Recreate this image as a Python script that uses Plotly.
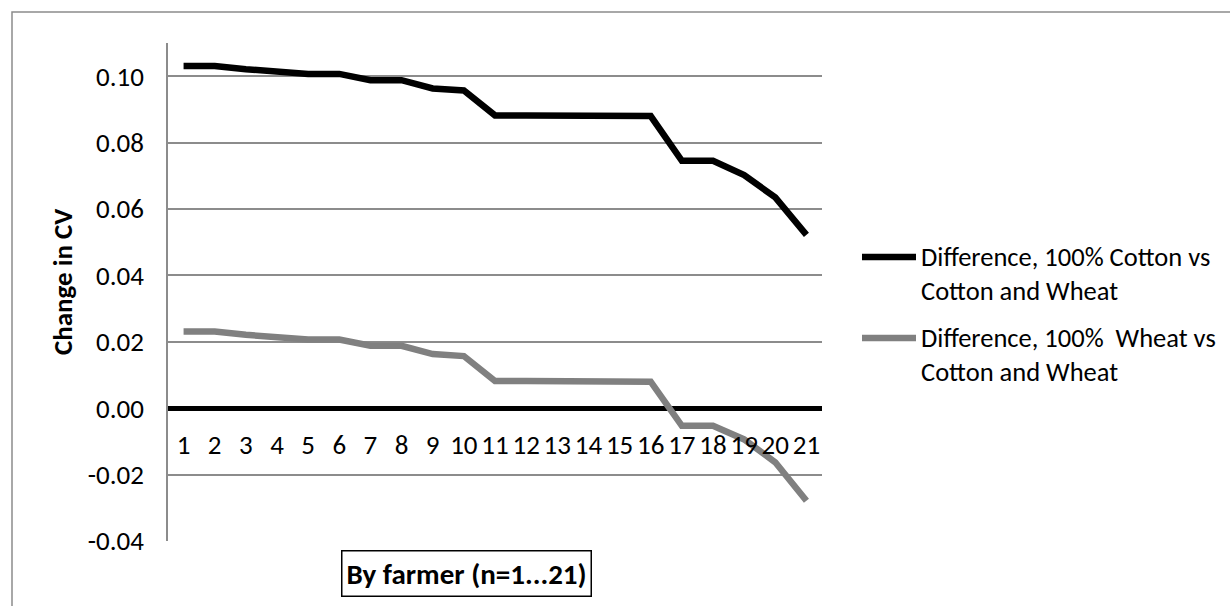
import plotly.graph_objects as go

farmers = list(range(1, 22))
tick_labels = [str(i) for i in farmers]
y_tick_vals = [-0.04, -0.02, 0.0, 0.02, 0.04, 0.06, 0.08, 0.10]
y_tick_text = ["-0.04", "-0.02", "0.00", "0.02", "0.04", "0.06", "0.08", "0.10"]
cotton_diff = [0.1031, 0.1031, 0.1021, 0.1012, 0.1007, 0.1007, 0.0988, 0.0988, 0.0963, 0.0957,
               0.0882, 0.0882, 0.0882, 0.0882, 0.0882, 0.0880, 0.0745, 0.0745, 0.0702, 0.0635, 0.0522]
wheat_diff = [0.0231, 0.0231, 0.0221, 0.0212, 0.0207, 0.0207, 0.0188, 0.0188, 0.0163, 0.0157,
              0.0082, 0.0082, 0.0082, 0.0082, 0.0082, 0.0080, -0.0053, -0.0053, -0.0094, -0.0163, -0.0279]
series_names = ["Difference, 100% Cotton vs<br>Cotton and Wheat",
                "Difference, 100%\u00a0 Wheat vs<br>Cotton and Wheat"]
series_colors = ["#000000", "#808080"]

FONT = "Calibri, Carlito, Lato, sans-serif"
W, H = 1230, 606
L, R, T, B = 168, 822, 43, 541
pw, ph = R - L, B - T

def px_x(x):
    return (x - L) / pw

def px_y(y):
    return (B - y) / ph

fig = go.Figure()
for vals, name, col in zip([cotton_diff, wheat_diff], series_names, series_colors):
    fig.add_trace(go.Scatter(x=farmers, y=vals, mode="lines", name=name, showlegend=False,
                             line=dict(color=col, width=6.5)))

y_min, y_max = -0.04, 0.11
fig.update_layout(
    width=W, height=H,
    margin=dict(l=L, r=W - R, t=T, b=H - B),
    paper_bgcolor="white", plot_bgcolor="white",
    font=dict(family=FONT, size=27, color="#000000"),
    showlegend=False,
    xaxis=dict(range=[0.5, 21.5], tickmode="array", tickvals=farmers, ticktext=tick_labels,
               showgrid=False, zeroline=False, showline=False,
               anchor="free", position=(0 - y_min) / (y_max - y_min),
               ticks="outside", ticklen=12, tickcolor="rgba(0,0,0,0)",
               tickfont=dict(size=27)),
    yaxis=dict(range=[y_min, y_max], tickmode="array", tickvals=y_tick_vals, ticktext=y_tick_text,
               showgrid=True, gridcolor="#8c8c8c", gridwidth=1.5,
               zeroline=True, zerolinecolor="#000000", zerolinewidth=4.5,
               showline=True, linecolor="#8c8c8c", linewidth=1.5,
               ticks="outside", ticklen=17, tickcolor="rgba(0,0,0,0)",
               tickfont=dict(size=27)),
)

# Legend (drawn manually so the line samples match the original length)
legend_rows = [257, 338]
for name, col, yc in zip(series_names, series_colors, legend_rows):
    fig.add_shape(type="line", xref="paper", yref="paper",
                  x0=px_x(862), x1=px_x(916), y0=px_y(yc), y1=px_y(yc),
                  line=dict(color=col, width=6.5))
    fig.add_annotation(text=name, xref="paper", yref="paper", x=px_x(919), y=px_y(yc + 16.5),
                       xanchor="left", yanchor="middle", align="left", showarrow=False,
                       font=dict(size=26.5))

# Axis titles
fig.add_annotation(text="<b>Change in CV</b>", textangle=-90, xref="paper", yref="paper",
                   x=px_x(62), y=px_y(282), showarrow=False, font=dict(size=27),
                   xanchor="center", yanchor="middle")
fig.add_annotation(text="<b>By farmer (n=1...21)</b>", xref="paper", yref="paper",
                   x=px_x(466), y=px_y(573), showarrow=False, font=dict(size=29),
                   xanchor="center", yanchor="middle",
                   bordercolor="#000000", borderwidth=1.5, borderpad=4, bgcolor="white")

# Chart-area border
fig.add_shape(type="rect", xref="paper", yref="paper",
              x0=px_x(12), y0=px_y(700), x1=px_x(1300), y1=px_y(12),
              line=dict(color="#8c8c8c", width=1.5), fillcolor="rgba(0,0,0,0)", layer="below")

fig.write_html("out.html")
